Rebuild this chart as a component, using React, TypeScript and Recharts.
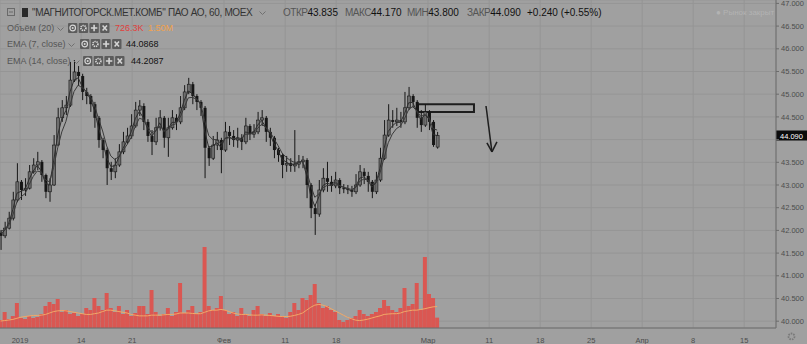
import React from 'react'
import {
  ComposedChart,
  Bar,
  Line,
  XAxis,
  YAxis,
  CartesianGrid,
  ReferenceArea,
  ReferenceLine,
} from 'recharts'

// hourly candles, grouped ~4 bars per sample, time in trading days from Jan 3
const START_DAY = -1.9
const STEP_DAY = 0.4

const opens = [
  41.95, 41.88, 42.05, 42.27, 42.67, 43.07, 42.89, 42.93, 43.29, 43.44,
  43.51, 43.22, 42.85, 43.0, 43.88, 44.48, 44.7, 44.76, 45.31, 45.49,
  45.4, 45.05, 44.96, 44.78, 44.48, 43.99, 43.77, 43.37, 43.29, 43.44,
  43.73, 43.95, 44.08, 44.3, 44.65, 44.74, 44.39, 44.08, 43.95, 44.26,
  44.48, 44.04, 44.26, 44.48, 44.39, 44.7, 45.05, 45.22, 44.96, 44.83,
  44.7, 43.82, 43.59, 43.88, 43.99, 43.77, 44.17, 44.08, 43.99, 44.04,
  43.95, 44.3, 44.12, 44.17, 44.43, 44.48, 44.17, 44.04, 43.77, 43.66,
  43.44, 43.48, 43.42, 43.46, 43.51, 43.55, 43.0, 42.49, 42.36, 42.89,
  43.15, 43.07, 42.98, 43.11, 42.93, 42.91, 42.89, 42.85, 43.0, 43.29,
  43.2, 43.07, 42.85, 43.11, 43.59, 44.1, 44.43, 44.39, 44.43, 44.39,
  44.7, 44.96, 44.83, 44.48, 44.32, 44.61, 44.39, 43.835,
]
const highs = [
  42.01, 42.19, 42.41, 42.85, 43.48, 43.11, 43.15, 43.44, 43.59, 43.73,
  43.55, 43.25, 43.15, 44.1, 44.7, 44.87, 44.96, 45.71, 45.75, 45.62,
  45.45, 45.14, 45.0, 44.83, 44.52, 44.04, 43.82, 43.51, 43.59, 43.9,
  44.17, 44.26, 44.56, 44.83, 44.87, 44.8, 44.45, 44.21, 44.48, 44.65,
  44.52, 44.48, 44.65, 44.56, 44.96, 45.2, 45.36, 45.27, 45.0, 44.87,
  44.74, 43.86, 44.08, 44.17, 44.04, 44.39, 44.3, 44.21, 44.26, 44.12,
  44.48, 44.34, 44.34, 44.61, 44.65, 44.52, 44.26, 44.08, 43.82, 43.7,
  43.64, 43.59, 44.21, 43.66, 43.64, 43.59, 43.04, 42.58, 43.11, 43.37,
  43.51, 43.2, 43.29, 43.15, 43.02, 43.0, 42.98, 43.24, 43.44, 43.37,
  43.29, 43.11, 43.29, 43.82, 44.43, 44.78, 44.65, 44.7, 44.61, 45.05,
  45.16, 45.0, 44.87, 44.65, 44.78, 44.65, 44.43, 44.17,
]
const lows = [
  41.57, 41.83, 42.02, 42.22, 42.62, 42.67, 42.76, 42.9, 43.25, 43.33,
  43.07, 42.71, 42.63, 42.98, 43.86, 44.39, 44.54, 44.72, 45.27, 45.18,
  44.87, 44.78, 44.61, 44.26, 43.82, 43.59, 43.0, 43.11, 43.15, 43.4,
  43.68, 43.9, 44.02, 44.26, 44.52, 44.21, 43.95, 43.66, 43.88, 44.2,
  43.82, 43.62, 44.22, 44.21, 44.34, 44.65, 45.0, 44.78, 44.65, 44.52,
  43.15, 43.42, 43.55, 43.77, 43.26, 43.73, 43.88, 43.84, 43.82, 43.77,
  43.9, 43.99, 44.04, 44.12, 44.3, 43.95, 43.86, 43.59, 43.51, 43.15,
  43.29, 43.29, 43.29, 43.37, 43.37, 42.71, 42.27, 41.9, 42.3, 42.84,
  42.85, 42.85, 42.93, 42.8, 42.82, 42.8, 42.74, 42.8, 42.96, 43.02,
  42.85, 42.71, 42.8, 43.07, 43.55, 44.06, 44.26, 44.3, 44.26, 44.34,
  44.65, 44.7, 44.26, 44.17, 44.28, 44.21, 43.84, 43.8,
]
const closes = [
  41.88, 42.05, 42.27, 42.67, 43.07, 42.89, 42.93, 43.29, 43.44, 43.51,
  43.22, 42.85, 43.0, 43.88, 44.48, 44.7, 44.76, 45.31, 45.49, 45.4,
  45.05, 44.96, 44.78, 44.48, 43.99, 43.77, 43.37, 43.29, 43.44, 43.73,
  43.95, 44.08, 44.3, 44.65, 44.74, 44.39, 44.08, 43.95, 44.26, 44.48,
  44.04, 44.26, 44.48, 44.39, 44.7, 45.05, 45.22, 44.96, 44.83, 44.7,
  43.82, 43.59, 43.88, 43.99, 43.77, 44.17, 44.08, 43.99, 44.04, 43.95,
  44.3, 44.12, 44.17, 44.43, 44.48, 44.17, 44.04, 43.77, 43.66, 43.44,
  43.48, 43.42, 43.46, 43.51, 43.55, 43.0, 42.49, 42.36, 42.89, 43.15,
  43.07, 42.98, 43.11, 42.93, 42.91, 42.89, 42.85, 43.0, 43.29, 43.2,
  43.07, 42.85, 43.11, 43.59, 44.1, 44.43, 44.39, 44.43, 44.39, 44.7,
  44.96, 44.83, 44.48, 44.32, 44.61, 44.39, 43.88, 44.09,
]
// volume in thousands
const volumes = [
  560, 1120, 630, 840, 1750, 700, 630, 840, 700, 770,
  980, 1540, 1820, 1680, 2030, 1120, 1260, 980, 1050, 840,
  980, 1400, 1260, 2100, 1540, 1260, 2450, 1400, 1120, 1540,
  980, 1260, 840, 1050, 1540, 1540, 980, 2660, 1120, 840,
  980, 1400, 840, 1120, 3150, 1050, 1260, 1540, 980, 1120,
  5670, 1540, 1260, 1400, 2240, 1260, 980, 1120, 840, 1400,
  980, 840, 1260, 1540, 980, 840, 1050, 840, 980, 840,
  700, 1120, 1750, 1260, 2100, 1960, 2310, 3080, 1750, 1400,
  1540, 1260, 1120, 560, 420, 560, 700, 840, 1260, 980,
  840, 980, 1120, 1400, 1960, 1540, 1260, 1120, 1400, 2800,
  1540, 1680, 3150, 1260, 4970, 2380, 2100, 726,
]
const volumeMa = [
  490, 520, 560, 600, 680, 760, 800, 840, 880, 880,
  900, 950, 1050, 1150, 1200, 1220, 1200, 1150, 1100, 1050,
  1000, 950, 950, 1000, 1050, 1150, 1250, 1250, 1200, 1150,
  1100, 1050, 950, 900, 850, 850, 850, 900, 900, 900,
  920, 950, 950, 980, 1050, 1050, 1050, 1020, 1000, 1000,
  1100, 1200, 1250, 1250, 1300, 1250, 1150, 1050, 980, 950,
  950, 920, 900, 900, 920, 900, 880, 850, 820, 800,
  800, 820, 880, 950, 1050, 1250, 1450, 1600, 1650, 1600,
  1500, 1350, 1200, 1050, 900, 750, 650, 550, 520, 560,
  620, 700, 780, 850, 950, 980, 1000, 1000, 1050, 1150,
  1200, 1250, 1250, 1300, 1350, 1420, 1480, 1500,
]
const ema7 = [
  41.92, 42.0, 42.16, 42.46, 42.82, 42.86, 42.9, 43.13, 43.31, 43.43,
  43.3, 43.03, 43.01, 43.53, 44.1, 44.46, 44.64, 45.05, 45.31, 45.36,
  45.17, 45.05, 44.89, 44.65, 44.25, 43.96, 43.6, 43.41, 43.42, 43.61,
  43.81, 43.97, 44.17, 44.46, 44.62, 44.48, 44.24, 44.07, 44.19, 44.37,
  44.17, 44.23, 44.38, 44.38, 44.57, 44.86, 45.07, 45.01, 44.9, 44.78,
  44.2, 43.83, 43.86, 43.93, 43.83, 44.03, 44.06, 44.01, 44.02, 43.98,
  44.17, 44.14, 44.16, 44.32, 44.42, 44.27, 44.13, 43.91, 43.76, 43.56,
  43.51, 43.45, 43.46, 43.49, 43.53, 43.21, 42.77, 42.53, 42.74, 42.99,
  43.04, 43.01, 43.07, 42.99, 42.95, 42.91, 42.87, 42.95, 43.15, 43.18,
  43.11, 42.95, 43.05, 43.37, 43.81, 44.18, 44.3, 44.38, 44.38, 44.57,
  44.81, 44.82, 44.62, 44.44, 44.55, 44.45, 44.11, 44.09,
]
const ema14 = [
  41.98, 42.01, 42.11, 42.34, 42.63, 42.74, 42.81, 43.01, 43.19, 43.31,
  43.28, 43.11, 43.07, 43.39, 43.82, 44.17, 44.4, 44.76, 45.06, 45.2,
  45.14, 45.06, 44.95, 44.76, 44.46, 44.19, 43.86, 43.64, 43.56, 43.63,
  43.76, 43.89, 44.05, 44.29, 44.47, 44.44, 44.29, 44.15, 44.19, 44.3,
  44.2, 44.22, 44.32, 44.35, 44.49, 44.71, 44.92, 44.93, 44.89, 44.81,
  44.42, 44.09, 44.0, 44.0, 43.91, 44.02, 44.04, 44.02, 44.03, 44.0,
  44.12, 44.12, 44.14, 44.25, 44.34, 44.27, 44.18, 44.02, 43.87, 43.7,
  43.61, 43.54, 43.5, 43.5, 43.52, 43.31, 42.99, 42.73, 42.8, 42.94,
  42.99, 42.99, 43.03, 42.99, 42.95, 42.93, 42.9, 42.94, 43.08, 43.13,
  43.11, 43.01, 43.05, 43.27, 43.6, 43.93, 44.12, 44.24, 44.3, 44.46,
  44.66, 44.73, 44.63, 44.51, 44.55, 44.49, 44.24, 44.21,
]

const dayTicks = [0, 6, 11, 20, 26, 31, 40, 46, 51, 56, 61, 66, 71]
const dayLabels = ['2019', '14', '21', 'Фев', '11', '18', 'Мар', '11', '18', '25', 'Апр', '8', '15']
const priceTicks = [40, 40.5, 41, 41.5, 42, 42.5, 43, 43.5, 44, 44.5, 45, 45.5, 46, 46.5, 47]
const LAST_CLOSE = 44.09
// the 44.000 label sits under the last-price tag
const hiddenPriceLabel = 44

// drawings on the chart (data coordinates)
const boxDays = [39.02, 44.51]
const boxPrices = [44.61, 44.78]
const arrowTop = { x: 45.69, y: 44.74 }
const arrowTip = { x: 46.27, y: 43.73 }
const arrowLeft = { x: 45.78, y: 43.93 }
const arrowRight = { x: 46.76, y: 43.95 }

const chartData = closes.map((c, i) => ({
  t: +(START_DAY + i * STEP_DAY).toFixed(2),
  open: opens[i],
  high: highs[i],
  low: lows[i],
  close: c,
  range: [lows[i], highs[i]],
  vol: volumes[i],
  volMa: volumeMa[i],
  ema7: ema7[i],
  ema14: ema14[i],
}))

const FONT = '"Liberation Sans", Arial, sans-serif'
const INK = '#161616'

function Candle(props: any) {
  const { x, y, width, height, payload } = props
  if (height == null || !payload) return null
  const { open, close, high, low } = payload
  const top = Math.min(y, y + height)
  const span = Math.abs(height)
  const k = high === low ? 0 : span / (high - low)
  const bodyTop = top + (high - Math.max(open, close)) * k
  const bodyH = Math.max(1, Math.abs(open - close) * k)
  const cx = x + width / 2
  const up = close >= open
  return (
    <g>
      <line x1={cx} x2={cx} y1={top} y2={top + span} stroke={INK} strokeWidth={1} />
      <rect
        x={x}
        y={bodyTop}
        width={width}
        height={bodyH}
        fill={up ? '#6e6e6e' : INK}
        stroke={INK}
        strokeWidth={up ? 0.6 : 0}
      />
    </g>
  )
}

function PriceTag(props: any) {
  const vb = props.viewBox
  if (!vb) return null
  const right = vb.x + vb.width
  return (
    <g>
      <rect x={right} y={vb.y - 5} width={31} height={10} fill="#0c0c0c" />
      <text x={right + 4} y={vb.y + 3} fontSize={7.5} fill="#ffffff" fontFamily={FONT}>
        {LAST_CLOSE.toFixed(3)}
      </text>
    </g>
  )
}

function Icons({ left, top }: { left: number; top: number }) {
  const c = '#d6d6d6'
  return (
    <svg style={{ position: 'absolute', left, top }} width={43} height={10}>
      {[0, 1, 2, 3].map((k) => (
        <rect key={k} x={k * 10.7} y={0} width={9.4} height={10} rx={1} fill="#5c5c5c" />
      ))}
      <circle cx={4.7} cy={5} r={2.8} fill="none" stroke={c} strokeWidth={1.2} />
      <circle cx={4.7} cy={5} r={1} fill={c} />
      <circle cx={15.4} cy={5} r={2.5} fill="none" stroke={c} strokeWidth={1.7} strokeDasharray="1.3 0.8" />
      <path d="M26.1 1.8v6.4M22.9 5h6.4" stroke={c} strokeWidth={1.6} />
      <path d="M34.6 2.4l4.4 5.2M39 2.4l-4.4 5.2" stroke={c} strokeWidth={1.5} />
    </svg>
  )
}

function Chevron({ left, top }: { left: number; top: number }) {
  return (
    <svg style={{ position: 'absolute', left, top }} width={7} height={5}>
      <path d="M0.5 0.5L3.5 3.5L6.5 0.5" fill="none" stroke="#707070" strokeWidth={1} />
    </svg>
  )
}

function Txt({ left, top, size, color, children, spacing }: any) {
  return (
    <span
      style={{
        position: 'absolute',
        left,
        top,
        fontSize: size,
        color,
        lineHeight: '12px',
        whiteSpace: 'nowrap',
        letterSpacing: spacing ?? 0,
      }}
    >
      {children}
    </span>
  )
}

const LAB = '#555555'
const VAL = '#111111'

function Ohlc({ left, label, value }: { left: number; label: string; value: string }) {
  return (
    <Txt left={left} top={7} size={10} color={VAL}>
      <span style={{ color: LAB, letterSpacing: -0.5 }}>{label}</span>
      {value}
    </Txt>
  )
}

function Header() {
  return (
    <div style={{ position: 'absolute', left: 0, top: 0, pointerEvents: 'none' }}>
      <svg style={{ position: 'absolute', left: 7, top: 8 }} width={30} height={10}>
        <rect x={0.5} y={0.5} width={7} height={7} fill="none" stroke="#6a6a6a" />
        <path d="M2 4h4" stroke="#6a6a6a" />
        <rect x={15} y={0} width={6} height={9} fill="#2a2a2a" />
      </svg>
      <Txt left={32} top={7} size={10} color="#333" spacing={-0.35}>
        "МАГНИТОГОРСК.МЕТ.КОМБ" ПАО АО, 60, MOEX
      </Txt>
      <Chevron left={259} top={11} />
      <Ohlc left={283} label="ОТКР" value="43.835" />
      <Ohlc left={345} label="МАКС" value="44.170" />
      <Ohlc left={407} label="МИН" value="43.800" />
      <Ohlc left={467} label="ЗАКР" value="44.090" />
      <Txt left={527} top={7} size={10} color={VAL}>+0.240 (+0.55%)</Txt>
      <Txt left={716} top={7} size={8} color="#b3b3b3">● Рынок закрыт</Txt>

      <Txt left={7} top={22} size={9} color={LAB}>Объём (20)</Txt>
      <Chevron left={57} top={27} />
      <Icons left={68} top={23} />
      <Txt left={115} top={22} size={9} color="#e0403c">726.3K</Txt>
      <Txt left={148} top={22} size={9} color="#f2a24e">1.50M</Txt>

      <Txt left={7} top={38} size={9} color={LAB}>EMA (7, close)</Txt>
      <Chevron left={68} top={43} />
      <Icons left={80} top={39} />
      <Txt left={126} top={38} size={9} color={VAL}>44.0868</Txt>

      <Txt left={7} top={55} size={9} color={LAB}>EMA (14, close)</Txt>
      <Chevron left={73} top={60} />
      <Icons left={83} top={56} />
      <Txt left={131} top={55} size={9} color={VAL}>44.2087</Txt>
    </div>
  )
}

export default function App() {
  const tickStyle = { fontSize: 7.5, fill: '#4d4d4d', fontFamily: FONT }
  return (
    <div
      style={{
        position: 'absolute',
        left: 0,
        top: 0,
        width: 807,
        height: 344,
        background: '#a0a0a0',
        fontFamily: FONT,
        overflow: 'hidden',
      }}
    >
      <ComposedChart
        width={807}
        height={344}
        data={chartData}
        margin={{ top: 0, right: 0, bottom: 0, left: 0 }}
      >
        <CartesianGrid stroke="#959595" strokeWidth={1} />
        <XAxis
          dataKey="t"
          type="number"
          domain={[-1.96, 74.12]}
          allowDataOverflow
          ticks={dayTicks}
          interval={0}
          tickFormatter={(v: number) => dayLabels[dayTicks.indexOf(v)] ?? ''}
          height={16}
          tickLine={false}
          tickMargin={4}
          axisLine={{ stroke: '#6c6c6c' }}
          tick={tickStyle}
        />
        <XAxis xAxisId="v" dataKey="t" type="number" domain={[-1.96, 74.12]} allowDataOverflow hide />
        <YAxis
          orientation="right"
          width={31}
          domain={[39.85, 47.075]}
          allowDataOverflow
          ticks={priceTicks}
          interval={0}
          tickFormatter={(v: number) => (v === hiddenPriceLabel ? '' : v.toFixed(3))}
          tickSize={3}
          tickMargin={2}
          axisLine={{ stroke: '#6c6c6c' }}
          tickLine={{ stroke: '#6c6c6c' }}
          tick={tickStyle}
        />
        <YAxis yAxisId="vol" domain={[0, 22960]} allowDataOverflow hide />

        <Bar
          xAxisId="v"
          yAxisId="vol"
          dataKey="vol"
          fill="#da5752"
          barSize={4}
          isAnimationActive={false}
        />
        <Line
          xAxisId="v"
          yAxisId="vol"
          dataKey="volMa"
          stroke="#f3a866"
          strokeWidth={1}
          dot={false}
          activeDot={false}
          isAnimationActive={false}
        />
        <Bar dataKey="range" barSize={3} shape={<Candle />} activeBar={false} isAnimationActive={false} />
        <Line dataKey="ema7" stroke="#2e2e2e" strokeWidth={1} dot={false} activeDot={false} isAnimationActive={false} />
        <Line dataKey="ema14" stroke="#3a3a3a" strokeWidth={1} dot={false} activeDot={false} isAnimationActive={false} />

        <ReferenceArea
          x1={boxDays[0]}
          x2={boxDays[1]}
          y1={boxPrices[0]}
          y2={boxPrices[1]}
          fill="none"
          fillOpacity={0}
          stroke="#1e1e1e"
          strokeWidth={2}
          ifOverflow="visible"
        />
        <ReferenceLine segment={[arrowTop, arrowTip]} stroke="#1e1e1e" strokeWidth={1.5} ifOverflow="visible" />
        <ReferenceLine segment={[arrowLeft, arrowTip]} stroke="#1e1e1e" strokeWidth={1.5} ifOverflow="visible" />
        <ReferenceLine segment={[arrowRight, arrowTip]} stroke="#1e1e1e" strokeWidth={1.5} ifOverflow="visible" />
        <ReferenceLine y={LAST_CLOSE} stroke="none" ifOverflow="visible" label={<PriceTag />} />
      </ComposedChart>
      <Header />
      <svg style={{ position: 'absolute', left: 786, top: 331 }} width={11} height={11}>
        <circle cx={5.5} cy={5.5} r={3} fill="none" stroke="#7a7a7a" strokeWidth={1.8} strokeDasharray="1.6 1" />
      </svg>
    </div>
  )
}
